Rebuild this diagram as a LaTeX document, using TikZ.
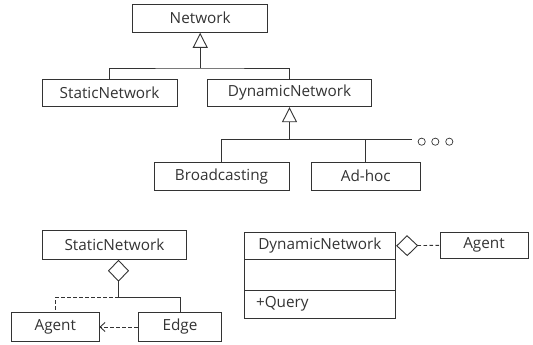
\documentclass[tikz,border=0pt]{standalone}
\usepackage{fontspec}
\setmainfont{Open Sans}
\usetikzlibrary{arrows.meta}
\definecolor{ink}{HTML}{333333}
\tikzset{
  box/.style={draw=ink, line width=0.9pt, inner sep=0pt, text=ink, font=\fontsize{15.3}{17}\selectfont},
  ln/.style={draw=ink, line width=0.9pt},
  dsh/.style={ln, dash pattern=on 3.5pt off 2.5pt},
  gen/.style={ln, -{Triangle[open, length=15pt, width=15pt, line width=0.9pt]}},
  agg/.style={ln, {Diamond[open, length=22pt, width=21pt, line width=0.9pt]}-},
}
\begin{document}
\begin{tikzpicture}[x=1pt, y=-1pt]
\useasboundingbox (0,0) rectangle (533,345);
% top hierarchy
\node[box, minimum width=135pt, minimum height=28.3pt] (net) at (200.2,18.2) {Network};
\node[box, minimum width=134.7pt, minimum height=27.7pt] (sn1) at (109.6,92.9) {StaticNetwork};
\node[box, minimum width=164.4pt, minimum height=27.4pt] (dn1) at (289.5,93) {DynamicNetwork};
\node[box, minimum width=135pt, minimum height=27.7pt] (bc) at (221.5,176.2) {Broadcasting};
\node[box, minimum width=108.3pt, minimum height=27.7pt] (ah) at (365.8,176.2) {Ad-hoc};
\coordinate (j1) at (200.2,68);
\coordinate (j2) at (289.5,139.5);
\coordinate (more) at (411.7,139.5);
\draw[gen] (j1) -- (net.south);
\draw[ln] (sn1.north) |- (j1) -| (dn1.north);
\draw[gen] (j2) -- (dn1.south);
\draw[ln] (bc.north) |- (more);
\draw[ln] (ah.north) -- (ah.north |- more);
\foreach \cx in {421.7,435.3,449.3} \draw[ln, line width=0.7pt] (\cx,141.7) circle (3.6pt);
% bottom left
\node[box, minimum width=144.4pt, minimum height=28.6pt] (sn2) at (114.5,245) {StaticNetwork};
\node[box, minimum width=87.3pt, minimum height=29.4pt] (ag1) at (55.3,327) {Agent};
\node[box, minimum width=83.4pt, minimum height=29.4pt] (ed) at (180,327) {Edge};
\coordinate (j3) at (118.5,297.3);
\draw[agg] (sn2.south -| j3) -- (j3);
\draw[dsh] (j3) -| (ag1.north);
\draw[ln] (j3) -| (ed.north);
\draw[dsh, -{Straight Barb[length=5pt, width=9pt, line width=0.9pt]}] (ed.west) -- (ag1.east);
% bottom right class
\node[box, minimum width=151.7pt, minimum height=27pt] (dn2) at (319.85,245.8) {DynamicNetwork};
\node[box, minimum width=151.7pt, minimum height=30.7pt] (dn2m) at (319.85,274.65) {};
\node[box, minimum height=28.3pt, inner xsep=12pt, text width=127.7pt, align=left] (dn2b) at (319.85,304.15) {+Query};
\node[box, minimum width=88pt, minimum height=26pt] (ag2) at (484,245.3) {Agent};
\draw[agg, dash pattern=on 3.5pt off 2.5pt] (dn2.east) -- (ag2.west);
\end{tikzpicture}
\end{document}
